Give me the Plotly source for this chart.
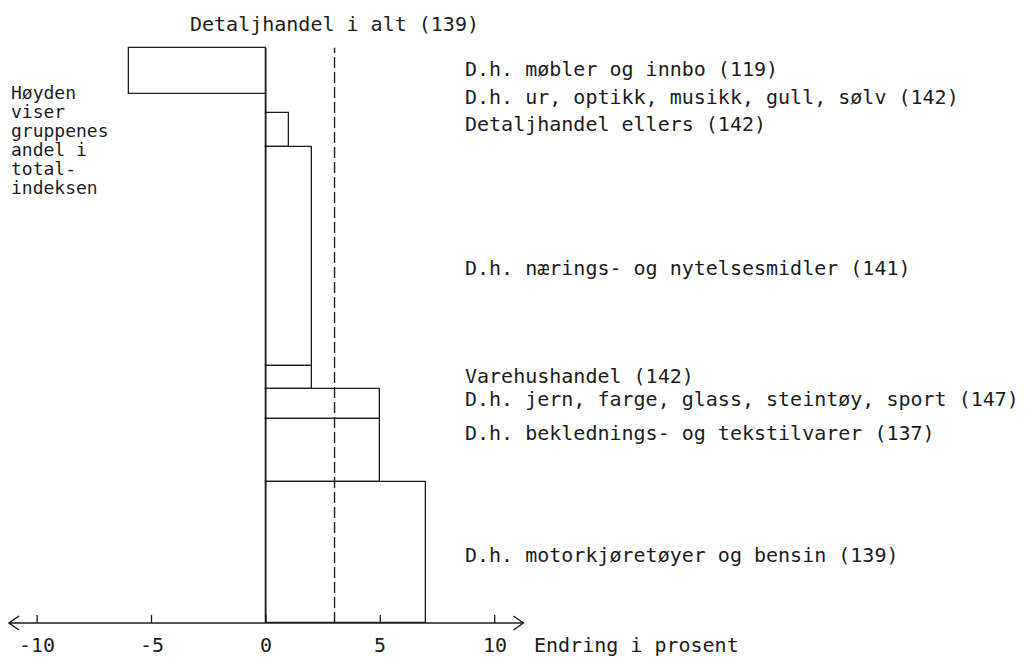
import plotly.graph_objects as go

# ---- data ----
groups = [
    "D.h. møbler og innbo",
    "D.h. ur, optikk, musikk, gull, sølv",
    "Detaljhandel ellers",
    "D.h. nærings- og nytelsesmidler",
    "Varehushandel",
    "D.h. jern, farge, glass, steintøy, sport",
    "D.h. beklednings- og tekstilvarer",
    "D.h. motorkjøretøyer og bensin",
]
indices = [119, 142, 142, 141, 142, 147, 137, 139]
change = [-6, 0, 1, 2, 2, 5, 5, 7]
weights = [8.0, 3.3, 5.9, 38.1, 4.0, 5.2, 11.0, 24.5]
total_label = "Detaljhandel i alt"
total_index = 139
total_change = 3
tick_values = [-10, -5, 0, 5, 10]
tick_labels = ["-10", "-5", "0", "5", "10"]
note_lines = ["Høyden", "viser", "gruppenes", "andel i", "total-", "indeksen"]
axis_title = "Endring i prosent"

# ---- layout constants (page pixels; the page body has an 8px margin) ----
OFF = 8
W, H = 1030 - OFF, 659 - OFF
PX_PER_X = 22.86
X0_PX = 265.7          # page x of value 0
TOP_PX = 48            # page y of top of the stack
AXIS_PX = 623          # page y of the axis
FONT = "DejaVu Sans Mono"
INK = "#1c1c1c"

total_w = sum(weights)
px_per_y = (AXIS_PX - TOP_PX) / total_w

xr = [-(X0_PX - OFF) / PX_PER_X, 11.5]
yr = [-4, total_w + 1]
l_m = 0
plot_w = (xr[1] - xr[0]) * PX_PER_X
r_m = W - plot_w
t_m = (TOP_PX - OFF) - (yr[1] - total_w) * px_per_y
plot_h = (yr[1] - yr[0]) * px_per_y
b_m = H - t_m - plot_h


def vx(px):
    return (px - X0_PX) / PX_PER_X


def vy(py):
    return (AXIS_PX - py) / px_per_y


# bar geometry from cumulative weights (top to bottom)
centers = []
acc = total_w
for w in weights:
    centers.append(acc - w / 2)
    acc -= w

fig = go.Figure()

fig.add_trace(go.Bar(
    orientation="h", x=change, y=centers, width=weights, base=0,
    marker=dict(color="rgba(255,255,255,0)", line=dict(color=INK, width=1.3)),
    hoverinfo="skip", showlegend=False,
))

# zero line through the full height
fig.add_trace(go.Scatter(x=[0, 0], y=[0, total_w], mode="lines",
                         line=dict(color=INK, width=1.3), hoverinfo="skip", showlegend=False))

# dashed total line
fig.add_trace(go.Scatter(x=[total_change, total_change], y=[0, total_w], mode="lines",
                         line=dict(color=INK, width=1.4, dash="11px,4px"),
                         hoverinfo="skip", showlegend=False))

# horizontal axis with open arrowheads
ax_l, ax_r = vx(9), vx(523)
ah_dx = 10 / PX_PER_X
ah_dy = 7 / px_per_y
fig.add_trace(go.Scatter(
    x=[ax_l, ax_r, None, ax_l + ah_dx, ax_l, ax_l + ah_dx, None, ax_r - ah_dx, ax_r, ax_r - ah_dx],
    y=[0, 0, None, ah_dy, 0, -ah_dy, None, ah_dy, 0, -ah_dy],
    mode="lines", line=dict(color=INK, width=1.4), hoverinfo="skip", showlegend=False))

# tick marks (upwards)
tk_x, tk_y = [], []
tick_h = 8 / px_per_y
for v in tick_values:
    tk_x += [v, v, None]
    tk_y += [0, tick_h, None]
fig.add_trace(go.Scatter(x=tk_x, y=tk_y, mode="lines", line=dict(color=INK, width=1.3),
                         hoverinfo="skip", showlegend=False))

font = dict(family=FONT, size=20, color=INK)
ann = []
for v, t in zip(tick_values, tick_labels):
    ann.append(dict(x=v, y=0, xref="x", yref="y", text=t, showarrow=False,
                    yshift=-22, yanchor="middle", xanchor="center", font=font))
# axis title, placed just right of the arrow tip
ann.append(dict(x=ax_r, y=0, xref="x", yref="y", text=axis_title, showarrow=False,
                xshift=9, yshift=-22, yanchor="middle", xanchor="left", font=font))
# total label above the dashed line
ann.append(dict(x=total_change, y=total_w, xref="x", yref="y",
                text=f"{total_label} ({total_index})", showarrow=False,
                yshift=TOP_PX - 24, yanchor="middle", xanchor="center", font=font))

# right-hand labels (page pixel rows)
label_rows_px = [69, 97, 124, 268, 376, 399, 433, 555]
for g, idx, py in zip(groups, indices, label_rows_px):
    ann.append(dict(x=vx(463), y=vy(py), xref="x", yref="y",
                    text=f"{g} ({idx})", showarrow=False, xanchor="left", yanchor="middle",
                    font=font))

# left note, one annotation per typed line
for i, line in enumerate(note_lines):
    ann.append(dict(x=vx(9), y=vy(93 + 19 * i), xref="x", yref="y", text=line,
                    showarrow=False, xanchor="left", yanchor="middle",
                    font=dict(family=FONT, size=18, color=INK)))

fig.update_layout(
    width=W, height=H,
    margin=dict(l=l_m, r=r_m, t=t_m, b=b_m, pad=0, autoexpand=False),
    paper_bgcolor="white", plot_bgcolor="white",
    xaxis=dict(range=xr, visible=False, fixedrange=True),
    yaxis=dict(range=yr, visible=False, fixedrange=True),
    annotations=ann, showlegend=False, bargap=0,
)

fig.write_html("out.html")
